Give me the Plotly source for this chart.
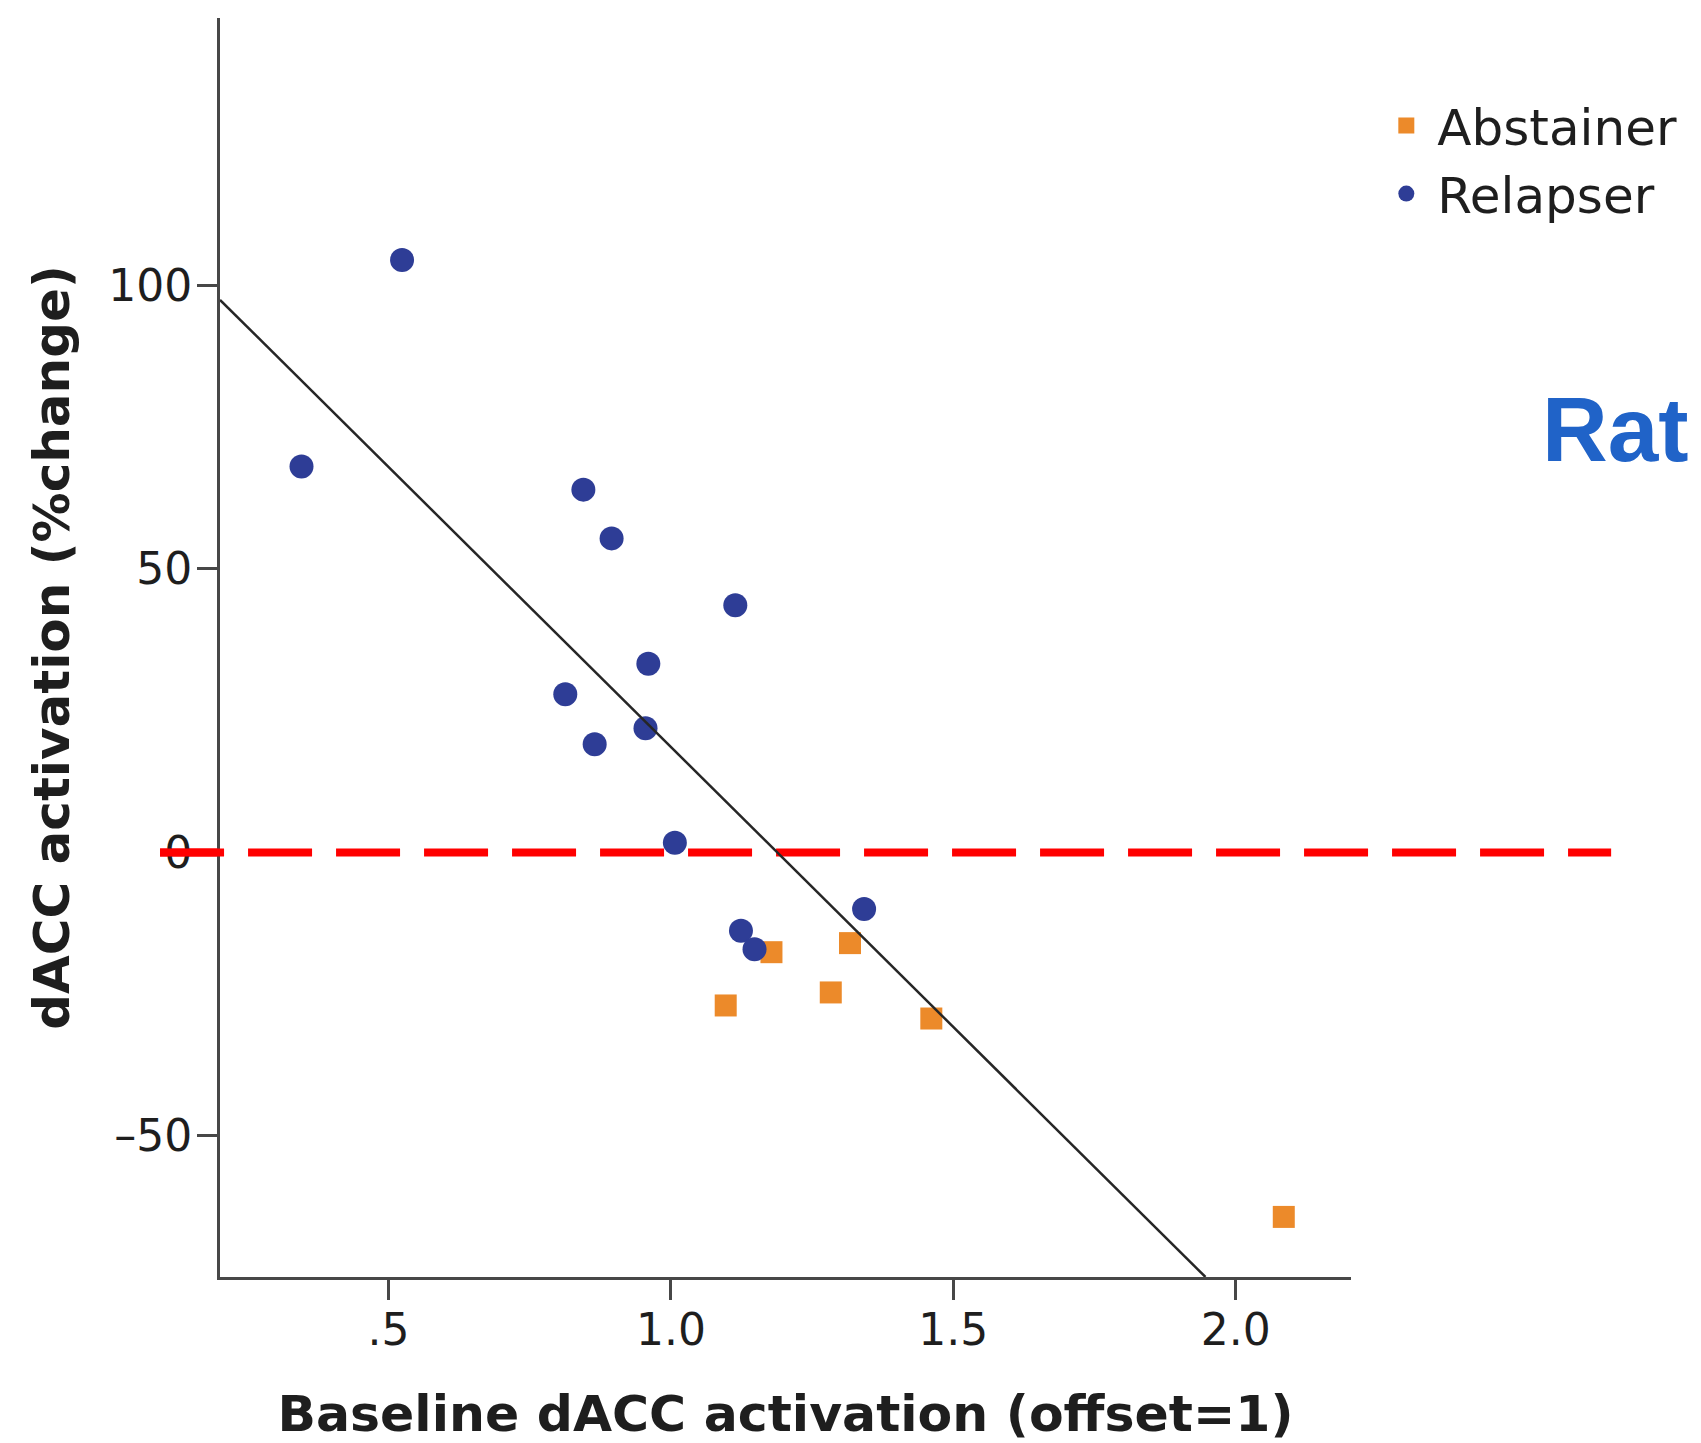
import plotly.graph_objects as go

# ---- data ----
relapser_x = [0.524, 0.346, 0.845, 0.895, 1.114, 0.960, 0.813, 0.955, 0.865, 1.007, 1.342, 1.124, 1.148]
relapser_y = [104.5, 68.1, 64.0, 55.4, 43.6, 33.3, 27.9, 21.9, 19.1, 1.7, -10.0, -13.8, -17.1]

abstainer_x = [1.178, 1.317, 1.097, 1.283, 1.461, 2.085]
abstainer_y = [-17.6, -16.0, -27.0, -24.7, -29.3, -64.3]

fit_intercept = 117.4
fit_slope = -98.8
reference_y = 0

x_range = [0.2017, 2.204]
y_range = [-74.9, 147.2]

x_tickvals = [0.5, 1.0, 1.5, 2.0]
x_ticktext = [".5", "1.0", "1.5", "2.0"]
y_tickvals = [-50, 0, 50, 100]
y_ticktext = ["\u201350", "0", "50", "100"]

# fit line endpoints within the axes box
fit_x0 = x_range[0]
fit_x1 = min(x_range[1], (y_range[0] - fit_intercept) / fit_slope)
fit_x = [fit_x0, fit_x1]
fit_y = [fit_intercept + fit_slope * v for v in fit_x]

FONT = "DejaVu Sans"
AX_COLOR = "#474747"
TXT = "#1e1e1e"

fig = go.Figure()

fig.add_trace(go.Scatter(
    x=abstainer_x, y=abstainer_y, mode="markers", name="Abstainer",
    marker=dict(symbol="square", size=22, color="#ec8a2a"),
))
fig.add_trace(go.Scatter(
    x=relapser_x, y=relapser_y, mode="markers", name="Relapser",
    marker=dict(symbol="circle", size=24, color="#2e3d96"),
))
fig.add_trace(go.Scatter(
    x=fit_x, y=fit_y, mode="lines", showlegend=False,
    line=dict(color="#262626", width=2.5),
))

dash = "64px,24px"
# reference line at 0 (under the markers inside the plot)
fig.add_shape(type="line", xref="paper", yref="y", x0=-0.053, x1=1.23,
              y0=reference_y, y1=reference_y, layer="below",
              line=dict(color="#ff0000", width=8, dash=dash))
# left stub over the axis labels
fig.add_shape(type="line", xref="paper", yref="y", x0=-0.053, x1=0.0,
              y0=reference_y, y1=reference_y, layer="above",
              line=dict(color="#ff0000", width=8, dash=dash))

fig.add_annotation(text="Rat", xref="paper", yref="paper", x=1.167, y=0.6735,
                   xanchor="left", yanchor="middle", showarrow=False,
                   font=dict(family="Liberation Sans", size=91, color="#2063c8", weight="bold"))

fig.update_layout(
    width=1693, height=1435,
    margin=dict(l=212, r=350, t=10, b=166, autoexpand=False),
    paper_bgcolor="white", plot_bgcolor="white",
    font=dict(family=FONT, color=TXT),
    legend=dict(x=1.0215, y=0.9455, xanchor="left", yanchor="top",
                font=dict(family=FONT, size=50, color=TXT),
                bgcolor="rgba(0,0,0,0)", itemsizing="trace", itemwidth=52,
                tracegroupgap=0),
)

fig.update_xaxes(
    range=x_range, tickvals=x_tickvals, ticktext=x_ticktext,
    showgrid=False, zeroline=False, showline=True, linecolor=AX_COLOR, linewidth=3,
    ticks="outside", ticklen=20, tickwidth=3, tickcolor=AX_COLOR,
    ticklabelstandoff=-8,
    tickfont=dict(family=FONT, size=44, color=TXT),
    title=dict(text="Baseline dACC activation (offset=1)", standoff=42,
               font=dict(family=FONT, size=50.5, color=TXT, weight="bold")),
    automargin=False,
)
fig.update_yaxes(
    range=y_range, tickvals=y_tickvals, ticktext=y_ticktext,
    showgrid=False, zeroline=False, showline=True, linecolor=AX_COLOR, linewidth=3,
    ticks="outside", ticklen=20, tickwidth=3, tickcolor=AX_COLOR,
    ticklabelstandoff=-4,
    tickfont=dict(family=FONT, size=44, color=TXT),
    title=dict(text="dACC activation (%change)", standoff=23,
               font=dict(family=FONT, size=50, color=TXT, weight="bold")),
    automargin=False,
)

fig.write_html("out.html")
